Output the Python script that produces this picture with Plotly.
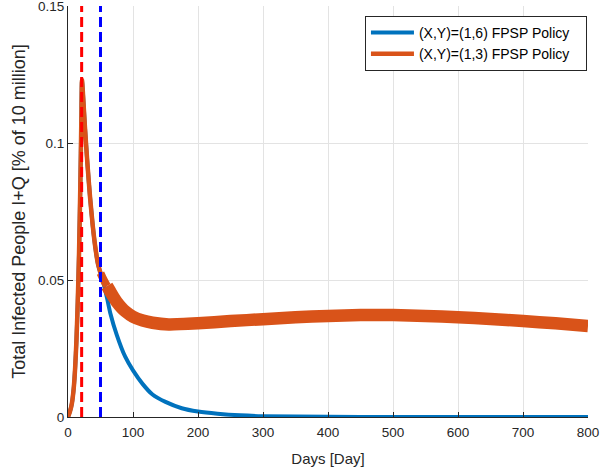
import plotly.graph_objects as go

# ---- data ----
early_days = [0, 3, 6, 9, 11, 13, 15, 17, 19, 20.5, 21.5, 23, 26, 30, 34, 38, 42, 46, 50]
early_vals = [0.0, 0.002, 0.005, 0.011, 0.018, 0.028, 0.042, 0.060, 0.085, 0.108, 0.123,
              0.118, 0.106, 0.092, 0.080, 0.070, 0.062, 0.056, 0.0525]

blue_late_days = [55, 60, 65, 75, 88, 100, 115, 130, 150, 175, 200, 230, 265, 300, 400, 500, 600, 700, 800]
blue_late_vals = [0.0485, 0.0435, 0.038, 0.030, 0.022, 0.017, 0.012, 0.0082, 0.0055, 0.0032,
                  0.0020, 0.0012, 0.0006, 0.0003, 0.0001, 0.0, 0.0, 0.0, 0.0]

orange_late_days = [55, 60, 65, 70, 75, 82, 88, 100, 115, 130, 155, 200, 250, 300, 350, 400, 450,
                    500, 550, 600, 650, 700, 750, 800]
orange_late_vals = [0.0500, 0.0478, 0.0458, 0.0438, 0.0420, 0.0400, 0.0386, 0.0366, 0.0352,
                    0.0344, 0.0338, 0.0342, 0.0350, 0.0357, 0.0364, 0.0369, 0.0372, 0.0372,
                    0.0369, 0.0364, 0.0358, 0.0350, 0.0342, 0.0332]

blue_days = early_days + blue_late_days
blue_vals = early_vals + blue_late_vals
orange_days = early_days + orange_late_days
orange_vals = early_vals + orange_late_vals

red_line_day = 21
blue_line_day = 50
y_span = [0, 0.15]

series_names = ["(X,Y)=(1,6) FPSP Policy", "(X,Y)=(1,3) FPSP Policy"]

BLUE = "#0072BD"
ORANGE = "#D95319"
AX = "#262626"
FONT = "Liberation Sans, Arial, sans-serif"
PAD = "\u00a0\u00a0\u00a0"

fig = go.Figure()

fig.add_trace(go.Scatter(x=blue_days, y=blue_vals, mode="lines", name=series_names[0] + PAD,
                         line=dict(color=BLUE, width=4, shape="spline", smoothing=0.6)))

i50 = orange_days.index(50)
i60 = orange_days.index(60)
# orange, thin part (shown in legend)
fig.add_trace(go.Scatter(x=orange_days[:i50 + 1], y=orange_vals[:i50 + 1], mode="lines",
                         name=series_names[1] + PAD,
                         line=dict(color=ORANGE, width=4.5, shape="spline", smoothing=0.6)))
# orange, widening part
fig.add_trace(go.Scatter(x=orange_days[i50:i60 + 1], y=orange_vals[i50:i60 + 1], mode="lines",
                         showlegend=False,
                         line=dict(color=ORANGE, width=8, shape="spline", smoothing=0.6)))
# orange, thick oscillating band part
fig.add_trace(go.Scatter(x=orange_days[i60:], y=orange_vals[i60:], mode="lines",
                         showlegend=False,
                         line=dict(color=ORANGE, width=12.5, shape="spline", smoothing=0.6)))

fig.add_trace(go.Scatter(x=[red_line_day, red_line_day], y=y_span, mode="lines", showlegend=False,
                         line=dict(color="#FF0000", width=3, dash="10px,5px")))
fig.add_trace(go.Scatter(x=[blue_line_day, blue_line_day], y=y_span, mode="lines", showlegend=False,
                         line=dict(color="#0000FF", width=3, dash="10px,5px")))

fig.update_layout(
    width=602, height=472,
    margin=dict(l=68, r=14, t=6, b=55),
    paper_bgcolor="white", plot_bgcolor="white",
    font=dict(family=FONT, color=AX, size=13),
    showlegend=True,
    legend=dict(x=0.998, y=0.976, xanchor="right", yanchor="top",
                bgcolor="white", bordercolor=AX, borderwidth=1,
                font=dict(size=14, color="#000000"), tracegroupgap=0,
                itemwidth=43),
    xaxis=dict(range=[0, 800], dtick=100, tick0=0, showgrid=True, gridcolor="#e3e3e3",
               zeroline=False, showline=True, linecolor=AX, linewidth=1, mirror=False,
               automargin=False, ticklabeloverflow="allow", ticklabelstandoff=3,
               ticks="inside", ticklen=5, tickcolor=AX, tickfont=dict(size=13.5, color=AX),
               title=dict(text="Days [Day]", font=dict(size=15, color=AX), standoff=14)),
    yaxis=dict(range=[0, 0.15], dtick=0.05, tick0=0, showgrid=True, gridcolor="#e3e3e3",
               zeroline=False, showline=True, linecolor=AX, linewidth=1, mirror=False,
               automargin=False, ticklabeloverflow="allow",
               ticks="inside", ticklen=5, tickcolor=AX, tickfont=dict(size=13.5, color=AX),
               title=dict(text="Total Infected People I+Q [% of 10 million]",
                          font=dict(size=18, color=AX), standoff=7)),
)

fig.write_html("out.html", config={"displayModeBar": False},
               post_script="document.body.style.margin='0';document.body.style.padding='0';")
